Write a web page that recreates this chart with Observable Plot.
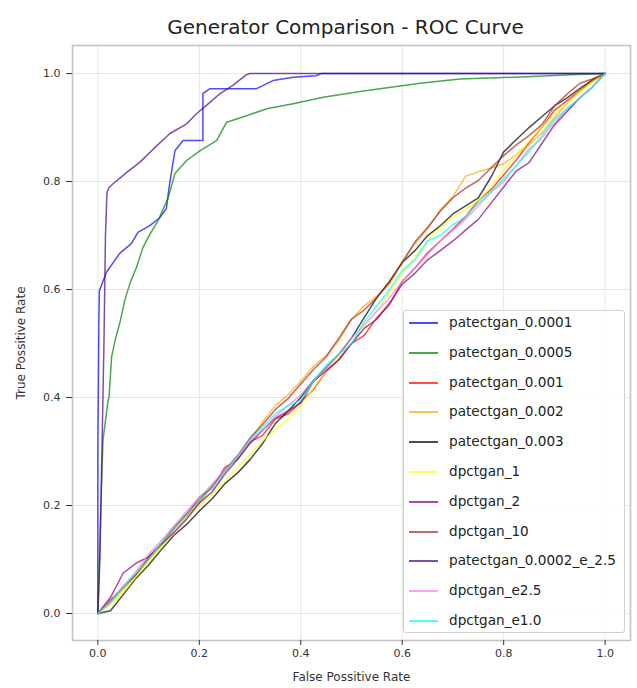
<!DOCTYPE html>
<html>
<head>
<meta charset="utf-8">
<script src="https://cdn.jsdelivr.net/npm/d3@7"></script>
<script src="https://cdn.jsdelivr.net/npm/@observablehq/plot@0.6"></script>
<style>
  body { margin: 0; background: #fff; font-family: "DejaVu Sans", sans-serif; }
  #wrap { position: relative; width: 637px; height: 688px; }
  #legend { position: absolute; left: 403px; top: 310px; width: 222px; height: 323px;
    border: 1px solid #d0d0d0; border-radius: 3px; background: rgba(255,255,255,0.85); box-sizing: border-box; }
  .item { position: absolute; left: 0; height: 20px; font-size: 13.6px; color: #222; }
  .item .sw { position: absolute; left: 5px; top: 9px; width: 29px; height: 2px; }
  .item .lb { position: absolute; left: 45px; top: 1px; white-space: nowrap; }
</style>
</head>
<body>
<div id="wrap"><div id="chart"></div><div id="legend"></div></div>
<script>
// ---- data ----
const titleText = "Generator Comparison - ROC Curve";
const xLabel = "False Possitive Rate";
const yLabel = "True Possitive Rate";
const tickValues = [0, 0.2, 0.4, 0.6, 0.8, 1.0];

const seriesNames = ["patectgan_0.0001", "patectgan_0.0005", "patectgan_0.001", "patectgan_0.002",
  "patectgan_0.003", "dpctgan_1", "dpctgan_2", "dpctgan_10", "patectgan_0.0002_e_2.5", "dpctgan_e2.5", "dpctgan_e1.0"];
const seriesColors = ["#0000ff", "#008000", "#ff0000", "#ffa500", "#000000", "#ffff00", "#800080",
  "#a52a2a", "#4b0082", "#ee82ee", "#00ffff"];

// strong generators (fpr, tpr corners)
const p0001X = [0, 0.0, 0.002, 0.003, 0.017, 0.043, 0.066, 0.079, 0.103, 0.122, 0.135, 0.142, 0.152, 0.168, 0.207, 0.207, 0.221, 0.313, 0.345, 0.385, 0.43, 0.44, 1];
const p0001Y = [0, 0.3, 0.546, 0.598, 0.632, 0.667, 0.685, 0.706, 0.719, 0.733, 0.75, 0.80, 0.857, 0.876, 0.876, 0.963, 0.972, 0.972, 0.987, 0.993, 0.996, 1, 1];

const p0005X = [0, 0.003, 0.006, 0.01, 0.02, 0.022, 0.027, 0.034, 0.043, 0.053, 0.063, 0.076, 0.089, 0.103, 0.119, 0.129, 0.138, 0.152, 0.175, 0.201, 0.234, 0.254, 0.293, 0.333, 0.385, 0.444, 0.517, 0.556, 0.635, 0.714, 0.846, 0.931, 1];
const p0005Y = [0, 0.1, 0.2, 0.32, 0.394, 0.40, 0.475, 0.506, 0.537, 0.58, 0.611, 0.641, 0.678, 0.703, 0.728, 0.75, 0.768, 0.815, 0.839, 0.857, 0.876, 0.91, 0.922, 0.935, 0.944, 0.956, 0.967, 0.972, 0.982, 0.99, 0.994, 0.998, 1];

const p0002eX = [0, 0.004, 0.008, 0.012, 0.015, 0.018, 0.022, 0.03, 0.057, 0.083, 0.109, 0.142, 0.175, 0.195, 0.214, 0.241, 0.266, 0.293, 0.3, 1];
const p0002eY = [0, 0.1, 0.3, 0.5, 0.7, 0.78, 0.789, 0.796, 0.817, 0.836, 0.86, 0.889, 0.907, 0.926, 0.941, 0.963, 0.978, 0.998, 1, 1];

// near-random generators, tpr read at these fpr positions
const fprGrid = [0, 0.025, 0.05, 0.075, 0.1, 0.125, 0.15, 0.175, 0.2, 0.225, 0.25, 0.275, 0.3, 0.325, 0.35, 0.375, 0.4, 0.425, 0.45, 0.475, 0.5,
  0.525, 0.55, 0.575, 0.6, 0.625, 0.65, 0.675, 0.7, 0.725, 0.75, 0.775, 0.8, 0.825, 0.85, 0.875, 0.9, 0.925, 0.95, 0.975, 1];
const p001Y = [0, .022, .05, .072, .105, .128, .16, .182, .215, .232, .27, .285, .318, .33, .36, .37, .392, .415, .448, .47, .5, .515, .548, .572, .615, .64, .668, .69, .712, .735, .765, .785, .812, .84, .872, .9, .932, .95, .968, .985, 1];
const p002Y = [0, .02, .045, .07, .1, .125, .155, .18, .205, .235, .262, .29, .322, .355, .385, .405, .43, .458, .478, .505, .545, .57, .588, .61, .652, .685, .712, .748, .772, .81, .818, .825, .833, .85, .868, .89, .918, .945, .968, .99, 1];
const p003Y = [0, .005, .035, .065, .09, .118, .145, .165, .19, .212, .24, .26, .285, .315, .352, .375, .4, .432, .455, .48, .51, .548, .585, .615, .65, .672, .7, .718, .74, .755, .77, .808, .855, .878, .9, .92, .94, .955, .972, .988, 1];
const dp1Y = [0, .015, .04, .068, .095, .122, .15, .175, .2, .222, .245, .27, .295, .32, .34, .36, .385, .418, .45, .475, .5, .53, .56, .595, .63, .66, .69, .715, .735, .748, .765, .79, .82, .85, .875, .9, .925, .945, .965, .985, 1];
const dp2Y = [0, .03, .075, .093, .105, .128, .15, .175, .205, .225, .258, .285, .315, .34, .362, .375, .39, .43, .45, .47, .5, .528, .545, .575, .61, .63, .655, .672, .69, .71, .73, .76, .79, .82, .835, .87, .905, .93, .955, .975, 1];
const dp10Y = [0, .025, .048, .072, .102, .13, .158, .185, .21, .235, .265, .292, .325, .35, .378, .398, .425, .452, .475, .51, .545, .562, .585, .615, .65, .688, .715, .745, .77, .788, .802, .825, .848, .868, .885, .905, .94, .962, .982, .99, 1];
const dpe25Y = [0, .022, .05, .078, .11, .135, .162, .19, .215, .24, .265, .29, .32, .34, .365, .385, .405, .432, .455, .48, .51, .535, .56, .585, .615, .64, .665, .69, .71, .73, .755, .78, .8, .83, .86, .88, .91, .935, .955, .975, 1];
const dpe10Y = [0, .02, .048, .075, .1, .13, .158, .182, .21, .232, .262, .29, .322, .345, .37, .385, .395, .43, .46, .48, .5, .54, .57, .6, .635, .655, .69, .7, .72, .735, .76, .78, .805, .83, .855, .885, .915, .935, .955, .975, 1];

// ---- build table ----
const seriesXY = {
  "patectgan_0.0001": [p0001X, p0001Y],
  "patectgan_0.0005": [p0005X, p0005Y],
  "patectgan_0.001": [fprGrid, p001Y],
  "patectgan_0.002": [fprGrid, p002Y],
  "patectgan_0.003": [fprGrid, p003Y],
  "dpctgan_1": [fprGrid, dp1Y],
  "dpctgan_2": [fprGrid, dp2Y],
  "dpctgan_10": [fprGrid, dp10Y],
  "patectgan_0.0002_e_2.5": [p0002eX, p0002eY],
  "dpctgan_e2.5": [fprGrid, dpe25Y],
  "dpctgan_e1.0": [fprGrid, dpe10Y]
};
const rows = [];
seriesNames.forEach(name => {
  const [xs, ys] = seriesXY[name];
  xs.forEach((x, i) => rows.push({name, fpr: x, tpr: ys[i]}));
});

const plot = Plot.plot({
  width: 637, height: 688,
  marginLeft: 72, marginRight: 7, marginTop: 45, marginBottom: 48,
  style: {fontFamily: "DejaVu Sans, sans-serif", fontSize: "11px", color: "#333", background: "#fff"},
  x: {domain: [-0.05, 1.05]},
  y: {domain: [-0.05, 1.052]},
  color: {domain: seriesNames, range: seriesColors},
  marks: [
    Plot.gridX(tickValues, {stroke: "#dcebdc", strokeOpacity: 1, strokeWidth: 1}),
    Plot.gridY(tickValues, {stroke: "#dcebdc", strokeOpacity: 1, strokeWidth: 1}),
    Plot.line(rows, {x: "fpr", y: "tpr", z: "name", stroke: "name", strokeWidth: 1.5, strokeOpacity: 0.7}),
    Plot.frame({stroke: "#c4c4c4", strokeWidth: 1.6}),
    Plot.axisX({ticks: tickValues, tickFormat: d3.format(".1f"), tickSize: 5, tickPadding: 4, fontSize: 11,
      label: xLabel, labelAnchor: "center", labelArrow: "none", labelOffset: 40}),
    Plot.axisY({ticks: tickValues, tickFormat: d3.format(".1f"), tickSize: 6, tickPadding: 6, fontSize: 11,
      label: yLabel, labelAnchor: "center", labelArrow: "none", labelOffset: 56}),
    Plot.text([titleText], {frameAnchor: "top", dy: -26, dx: -6, fontSize: 20, fill: "#222", fontFamily: "DejaVu Sans, sans-serif"})
  ]
});
plot.querySelectorAll('[aria-label="x-axis label"] text, [aria-label="y-axis label"] text').forEach(t => t.setAttribute("font-size", "12"));
document.getElementById("chart").appendChild(plot);

// ---- legend ----
const legend = document.getElementById("legend");
seriesNames.forEach((name, i) => {
  const it = document.createElement("div");
  it.className = "item";
  it.style.top = (2 + i * 29.8) + "px";
  const sw = document.createElement("div");
  sw.className = "sw";
  sw.style.backgroundColor = seriesColors[i];
  sw.style.opacity = "0.7";
  const lb = document.createElement("div");
  lb.className = "lb";
  lb.textContent = name;
  it.appendChild(sw);
  it.appendChild(lb);
  legend.appendChild(it);
});
</script>
</body>
</html>
